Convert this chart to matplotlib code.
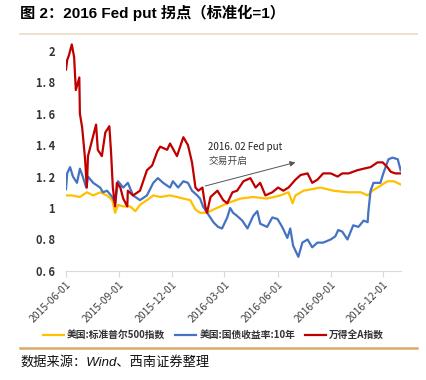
import matplotlib
matplotlib.use('Agg')
import matplotlib.pyplot as plt
import matplotlib.dates as mdates
import pandas as pd

plt.rcParams['font.family'] = ['Liberation Sans', 'Noto Sans CJK SC', 'DejaVu Sans']

# values (dates, index level normalised to 1)
spxDates = ['2015-06-01', '2015-06-11', '2015-06-25', '2015-07-07', '2015-07-18', '2015-07-30',
            '2015-08-11', '2015-08-20', '2015-08-25', '2015-08-30', '2015-09-08', '2015-09-20',
            '2015-09-29', '2015-10-07', '2015-10-19', '2015-10-30', '2015-11-11', '2015-11-28',
            '2015-12-10', '2015-12-21', '2016-01-02', '2016-01-11', '2016-01-19', '2016-01-31',
            '2016-02-11', '2016-03-06', '2016-03-29', '2016-04-20', '2016-05-14', '2016-06-06',
            '2016-06-20', '2016-06-27', '2016-07-02', '2016-07-16', '2016-08-14', '2016-09-06',
            '2016-09-30', '2016-10-23', '2016-11-04', '2016-11-12', '2016-11-21', '2016-12-08',
            '2016-12-19', '2016-12-31']
spxValues = [1.08, 1.08, 1.07, 1.10, 1.08, 1.10,
             1.08, 1.05, 0.97, 1.02, 1.01, 1.01,
             0.98, 1.02, 1.05, 1.08, 1.07, 1.08,
             1.07, 1.06, 1.05, 0.99, 0.97, 0.97,
             0.99, 1.03, 1.06, 1.07, 1.06, 1.08,
             1.10, 1.03, 1.08, 1.11, 1.13, 1.11,
             1.10, 1.10, 1.08, 1.11, 1.13, 1.17,
             1.17, 1.15]

ustDates = ['2015-06-01', '2015-06-03', '2015-06-08', '2015-06-13', '2015-06-20', '2015-06-25',
            '2015-06-30', '2015-07-06', '2015-07-09', '2015-07-18', '2015-07-30', '2015-08-04',
            '2015-08-11', '2015-08-20', '2015-08-25', '2015-08-30', '2015-09-08', '2015-09-16',
            '2015-09-25', '2015-10-07', '2015-10-19', '2015-10-30', '2015-11-07', '2015-11-16',
            '2015-11-28', '2015-12-03', '2015-12-12', '2015-12-21', '2015-12-29', '2016-01-05',
            '2016-01-14', '2016-01-19', '2016-01-24', '2016-02-02', '2016-02-11', '2016-02-19',
            '2016-02-26', '2016-03-06', '2016-03-11', '2016-03-16', '2016-03-23', '2016-04-01',
            '2016-04-10', '2016-04-20', '2016-04-27', '2016-05-02', '2016-05-14', '2016-05-23',
            '2016-06-01', '2016-06-09', '2016-06-18', '2016-06-23', '2016-06-28', '2016-07-07',
            '2016-07-14', '2016-07-23', '2016-07-31', '2016-08-09', '2016-08-19', '2016-09-01',
            '2016-09-09', '2016-09-14', '2016-09-21', '2016-09-30', '2016-10-10', '2016-10-19',
            '2016-10-28', '2016-11-04', '2016-11-05', '2016-11-09', '2016-11-14', '2016-11-26',
            '2016-12-01', '2016-12-10', '2016-12-17', '2016-12-26', '2016-12-31']
ustValues = [1.12, 1.22, 1.26, 1.20, 1.16, 1.25,
             1.20, 1.13, 1.20, 1.16, 1.13, 1.10,
             1.11, 1.07, 1.03, 1.17, 1.13, 1.16,
             1.08, 1.05, 1.08, 1.16, 1.19, 1.16,
             1.13, 1.17, 1.13, 1.17, 1.16, 1.11,
             1.08, 1.06, 1.01, 0.96, 0.91, 0.88,
             0.87, 0.94, 1.00, 0.97, 0.95, 0.92,
             0.87, 0.95, 0.98, 0.90, 0.88, 0.94,
             0.93, 0.88, 0.81, 0.87, 0.76, 0.69,
             0.78, 0.80, 0.75, 0.78, 0.78, 0.80,
             0.82, 0.86, 0.85, 0.80, 0.89, 0.88,
             0.92, 0.91, 0.97, 1.11, 1.16, 1.16,
             1.22, 1.31, 1.32, 1.31, 1.24]

windDates = ['2015-06-01', '2015-06-03', '2015-06-06', '2015-06-11', '2015-06-15', '2015-06-18',
             '2015-06-24', '2015-06-25', '2015-06-29', '2015-07-04', '2015-07-07', '2015-07-09',
             '2015-07-16', '2015-07-23', '2015-07-26', '2015-08-02', '2015-08-08', '2015-08-15',
             '2015-08-18', '2015-08-21', '2015-08-25', '2015-08-28', '2015-09-03', '2015-09-08',
             '2015-09-15', '2015-09-16', '2015-09-25', '2015-10-07', '2015-10-19', '2015-10-28',
             '2015-11-06', '2015-11-11', '2015-11-23', '2015-11-28', '2015-12-10', '2015-12-21',
             '2015-12-29', '2016-01-05', '2016-01-11', '2016-01-16', '2016-01-23', '2016-01-28',
             '2016-01-31', '2016-02-06', '2016-02-18', '2016-02-28', '2016-03-06', '2016-03-15',
             '2016-03-23', '2016-04-03', '2016-04-15', '2016-04-24', '2016-05-02', '2016-05-11',
             '2016-05-23', '2016-06-02', '2016-06-11', '2016-06-20', '2016-07-02', '2016-07-11',
             '2016-07-23', '2016-07-31', '2016-08-09', '2016-08-19', '2016-09-01', '2016-09-13',
             '2016-09-21', '2016-10-02', '2016-10-17', '2016-10-28', '2016-11-09', '2016-11-21',
             '2016-11-30', '2016-12-08', '2016-12-14', '2016-12-22', '2016-12-31']
windValues = [1.88, 1.94, 1.97, 2.04, 1.96, 1.75,
              1.83, 1.60, 1.51, 1.31, 1.13, 1.33,
              1.43, 1.53, 1.37, 1.33, 1.48, 1.52,
              1.35, 1.13, 1.01, 1.16, 1.13, 1.06,
              1.01, 1.11, 1.08, 1.11, 1.24, 1.27,
              1.36, 1.39, 1.37, 1.41, 1.33, 1.45,
              1.40, 1.29, 1.13, 1.11, 1.13, 1.01,
              0.97, 1.07, 1.11, 1.05, 1.03, 1.10,
              1.11, 1.17, 1.19, 1.13, 1.16, 1.08,
              1.10, 1.13, 1.11, 1.13, 1.18, 1.21,
              1.22, 1.16, 1.18, 1.22, 1.22, 1.20,
              1.22, 1.22, 1.24, 1.25, 1.26, 1.29,
              1.29, 1.26, 1.23, 1.22, 1.22]

tickDates = ['2015-06-01', '2015-09-01', '2015-12-01', '2016-03-01', '2016-06-01', '2016-09-01', '2016-12-01']
yTicks = [0.6, 0.8, 1.0, 1.2, 1.4, 1.6, 1.8, 2.0]
yTickLabels = ['0. 6', '0. 8', '1', '1. 2', '1. 4', '1. 6', '1. 8', '2']
seriesNames = ['美国:标准普尔500指数', '美国:国债收益率:10年', '万得全A指数']

fig = plt.figure(figsize=(4.27, 3.80), dpi=100)
ax = fig.add_axes([0.1546, 0.287, 0.785, 0.621])

ax.plot(pd.to_datetime(spxDates), spxValues, color='#FFC000', lw=1.6, label=seriesNames[0])
ax.plot(pd.to_datetime(ustDates), ustValues, color='#4472C4', lw=1.6, label=seriesNames[1])
ax.plot(pd.to_datetime(windDates), windValues, color='#C00000', lw=1.6, label=seriesNames[2])

ax.set_xlim(pd.Timestamp('2015-06-01'), pd.Timestamp('2017-01-01'))
ax.set_ylim(0.6, 2.1)
ax.set_xticks(pd.to_datetime(tickDates))
ax.xaxis.set_major_formatter(mdates.DateFormatter('%Y-%m-%d'))
ax.set_yticks(yTicks)
ax.set_yticklabels(yTickLabels, fontweight='bold', color='#333333', fontsize=8,
                   family=['Noto Sans CJK SC', 'DejaVu Sans'])
for lbl in ax.get_xticklabels():
    lbl.set_rotation(45)
    lbl.set_ha('right')
    lbl.set_rotation_mode('anchor')
    lbl.set_fontsize(7.5)
    lbl.set_color('#404040')
    lbl.set_family(['Noto Sans CJK SC', 'DejaVu Sans'])

for side in ['left', 'right', 'top']:
    ax.spines[side].set_visible(False)
ax.spines['bottom'].set_color('#D9D9D9')
ax.tick_params(axis='y', length=0, pad=8)
ax.tick_params(axis='x', length=4, color='#D9D9D9', pad=2)

# annotation
ax.text(pd.Timestamp('2016-02-02'), 1.385, '2016. 02 Fed put', fontsize=7,
        family=['Noto Sans CJK SC', 'DejaVu Sans'], color='#222222', va='center')
ax.text(pd.Timestamp('2016-02-02'), 1.30, '交易开启', fontsize=7,
        family=['Noto Sans CJK SC'], color='#444444', va='center')
ax.annotate('', xy=(pd.Timestamp('2016-07-02'), 1.29), xytext=(pd.Timestamp('2016-01-28'), 1.14),
            arrowprops=dict(arrowstyle='-|>', color='#555555', lw=0.7, mutation_scale=8,
                            shrinkA=0, shrinkB=0))

# title and frame
fig.text(0.047, 0.966, '图 2：2016 Fed put 拐点（标准化=1）', fontsize=11, fontweight='bold',
         va='center', ha='left', color='#000000')
fig.add_artist(plt.Line2D([0.047, 0.977], [0.911, 0.911], color='#E9DCC4', lw=1.2))
fig.add_artist(plt.Line2D([0.047, 0.977], [0.084, 0.084], color='#D9AB6A', lw=1.8))
fig.text(0.047, 0.047, '数据来源：Wind、西南证券整理', fontsize=9.5, style='italic',
         va='center', ha='left', color='#111111')

leg = fig.legend(loc='center', bbox_to_anchor=(0.5, 0.118), ncol=3, frameon=False,
                 handlelength=2.2, handletextpad=0.3, columnspacing=1.0,
                 prop={'family': ['Noto Sans CJK SC'], 'weight': 'bold', 'size': 7})
for text in leg.get_texts():
    text.set_color('#333333')

fig.savefig('out.png', dpi=100)
